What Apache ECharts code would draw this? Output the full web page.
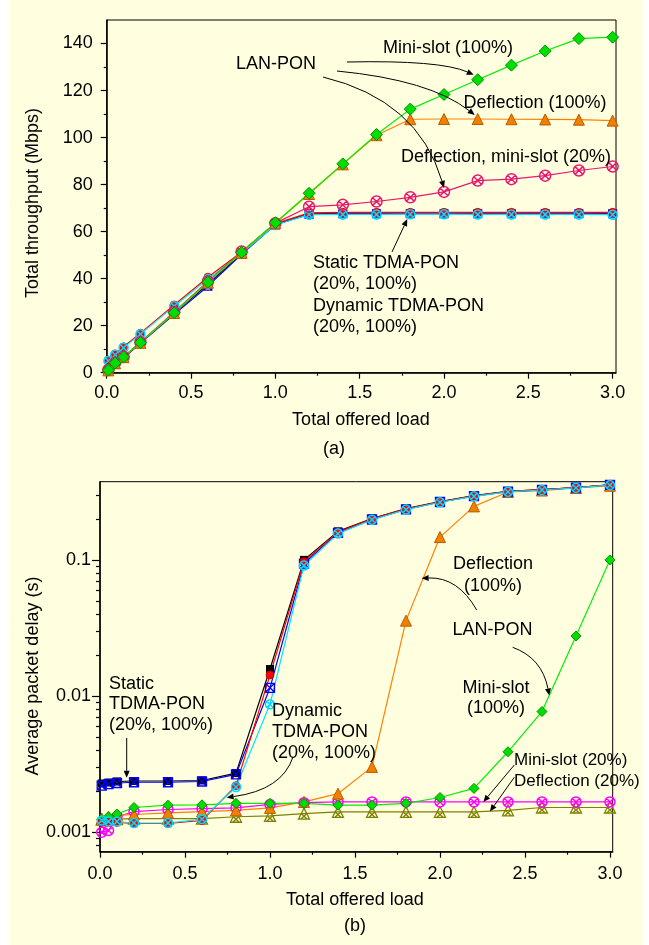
<!DOCTYPE html>
<html>
<head>
<meta charset="utf-8">
<script src="https://cdn.jsdelivr.net/npm/echarts@6.0.0/dist/echarts.min.js"></script>
<style>
html, body { margin: 0; padding: 0; background: #fff; }
#main {
    width: 649px; height: 945px;
    background: linear-gradient(to right, #fff 0, #fff 10px, #ffffe0 10px, #ffffe0 643px, #fff 643px);
}
</style>
</head>
<body>
<div id="main"></div>
<script>
// offered load (both panels)
const load = [0.01, 0.05, 0.1, 0.2, 0.4, 0.6, 0.8, 1.0, 1.2, 1.4, 1.6, 1.8, 2.0, 2.2, 2.4, 2.6, 2.8, 3.0];

// (a) total throughput, Mbps
const thrMini100 = [1.1, 4.1, 6.7, 12.8, 25.5, 38.5, 51.2, 63.8, 76.3, 88.8, 101.3, 112.1, 118.3, 124.6, 130.8, 136.8, 142.1, 142.7];
const thrDefl100 = [1.0, 4.0, 6.6, 12.7, 25.4, 38.3, 51.0, 63.6, 76.0, 88.6, 101.0, 107.8, 107.9, 107.9, 107.8, 107.7, 107.6, 107.2];
const thrDeflMini20 = [1.2, 4.2, 6.8, 13.0, 25.8, 38.8, 51.5, 63.6, 70.6, 71.4, 72.8, 74.6, 76.9, 81.7, 82.3, 83.8, 86.0, 87.7];
const thrStat20 = [1.1, 3.8, 6.5, 12.8, 25.3, 37.6, 50.8, 63.2, 67.6, 67.8, 67.9, 67.9, 67.9, 67.9, 67.9, 67.9, 67.9, 67.9];
const thrStat100 = [1.0, 3.5, 6.2, 12.5, 24.8, 36.8, 50.4, 62.9, 67.3, 67.6, 67.6, 67.6, 67.6, 67.6, 67.6, 67.6, 67.6, 67.6];
const thrDyn20 = [5.4, 8.0, 11.0, 16.8, 28.8, 40.6, 51.3, 63.4, 68.0, 68.2, 68.2, 68.2, 68.2, 68.2, 68.2, 68.2, 68.2, 68.2];
const thrDyn100 = [5.0, 7.6, 10.6, 16.4, 28.3, 39.8, 50.8, 62.8, 67.2, 67.3, 67.3, 67.4, 67.4, 67.3, 67.3, 67.3, 67.3, 67.2];

// (b) average packet delay, s
const dStat20 = [0.00228, 0.00232, 0.00236, 0.00238, 0.00238, 0.0024, 0.00272, 0.0158, 0.1, 0.162, 0.201, 0.238, 0.268, 0.296, 0.318, 0.328, 0.34, 0.356];
const dStat100 = [0.0022, 0.00226, 0.0023, 0.00233, 0.00233, 0.00236, 0.00266, 0.0115, 0.094, 0.158, 0.198, 0.235, 0.266, 0.294, 0.317, 0.327, 0.339, 0.355];
const dDyn20 = [0.00118, 0.00118, 0.00118, 0.00116, 0.00116, 0.00122, 0.0022, 0.0143, 0.097, 0.16, 0.2, 0.237, 0.267, 0.295, 0.318, 0.328, 0.34, 0.356];
const dDyn100 = [0.00122, 0.0012, 0.0012, 0.00117, 0.00117, 0.00125, 0.00215, 0.0087, 0.091, 0.156, 0.197, 0.234, 0.265, 0.293, 0.316, 0.326, 0.338, 0.354];
const dDefl100 = [0.00126, 0.0013, 0.00133, 0.00135, 0.00139, 0.00142, 0.00145, 0.00151, 0.00167, 0.00192, 0.00302, 0.0358, 0.147, 0.247, 0.315, 0.323, 0.337, 0.35];
const dMini100 = [0.00124, 0.0013, 0.00136, 0.00152, 0.00158, 0.00159, 0.00163, 0.00163, 0.00163, 0.00158, 0.00158, 0.00163, 0.0018, 0.0021, 0.0039, 0.0077, 0.0276, 0.1];
const dMini20 = [0.001, 0.00103, 0.0013, 0.00142, 0.00147, 0.00149, 0.00151, 0.0016, 0.00165, 0.00167, 0.00167, 0.00167, 0.00167, 0.00167, 0.00167, 0.00167, 0.00167, 0.00167];
const dDefl20 = [0.00124, 0.00124, 0.00125, 0.00126, 0.00126, 0.00126, 0.0013, 0.00132, 0.00137, 0.00141, 0.00141, 0.00141, 0.00141, 0.00141, 0.00145, 0.00152, 0.00152, 0.00152];

// tick values
const xTicks = [0, 0.5, 1.0, 1.5, 2.0, 2.5, 3.0];
const xMinor = [0.25, 0.75, 1.25, 1.75, 2.25, 2.75];
const yTicksA = [0, 20, 40, 60, 80, 100, 120, 140];
const yMinorA = [10, 30, 50, 70, 90, 110, 130];
const yTicksB = [0.001, 0.01, 0.1];
const yMinorB = [0.0008, 0.0009, 0.002, 0.003, 0.004, 0.005, 0.006, 0.007, 0.008, 0.009,
                 0.02, 0.03, 0.04, 0.05, 0.06, 0.07, 0.08, 0.09, 0.2, 0.3];

const FONT = '"Liberation Sans", Arial, sans-serif';

// marker shapes
const SYM_SQX = 'path://M0,0H20V20H0Z M0,0L20,20 M20,0L0,20';
const SYM_CIRX = 'path://M0,10A10,10,0,1,1,20,10A10,10,0,1,1,0,10Z M3,3L17,17 M17,3L3,17';
const SYM_TRIX = 'path://M10,0L20,20H0Z M4,9L16,20 M16,9L4,20';

function pairs(ys) {
    return load.map(function(x, i) { return [x, ys[i]]; });
}

function line(name, gi, ys, color, symbol, size, fill, border, bw) {
    return {
        name: name, type: 'line',
        xAxisIndex: gi * 2, yAxisIndex: gi * 2,
        data: pairs(ys),
        symbol: symbol, symbolSize: size,
        clip: false, animation: false,
        lineStyle: { color: color, width: 1.2 },
        itemStyle: { color: fill, borderColor: border, borderWidth: bw },
        emphasis: { disabled: true }
    };
}

function xAxis(gi, max, major) {
    return {
        gridIndex: gi, type: 'value', position: 'bottom', min: 0, max: max,
        axisLine: { show: major, onZero: false, lineStyle: { color: '#000', width: 1.5 } },
        axisTick: { show: true, length: major ? 6 : 3, customValues: major ? xTicks : xMinor,
                    lineStyle: { color: '#000', width: 1.2 } },
        axisLabel: { show: major, customValues: xTicks, formatter: function(v) { return v.toFixed(1); },
                     color: '#000', fontSize: 18, fontFamily: FONT, margin: gi === 0 ? 11 : 13 },
        splitLine: { show: false }
    };
}

const TRANS = 'rgba(0,0,0,0)';

const series = [
    // (a)
    line('Static TDMA-PON (20%)', 0, thrStat20, '#000', 'rect', 7, '#000', '#000', 0),
    line('Static TDMA-PON (100%)', 0, thrStat100, '#0000ff', SYM_SQX, 8, TRANS, '#0000ff', 1.2),
    line('Dynamic TDMA-PON (20%)', 0, thrDyn20, '#ff0000', 'circle', 8, '#ff0000', '#c00000', 0.8),
    line('Dynamic TDMA-PON (100%)', 0, thrDyn100, '#00e5ff', SYM_CIRX, 9, TRANS, '#00d8ff', 1.5),
    line('Deflection, mini-slot (20%)', 0, thrDeflMini20, '#e6196e', SYM_CIRX, 11, TRANS, '#e6196e', 1.5),
    line('Deflection (100%)', 0, thrDefl100, '#ff8000', 'triangle', 11, '#f08000', '#b85c00', 1),
    line('Mini-slot (100%)', 0, thrMini100, '#00ee00', 'diamond', 12, '#00dd00', '#009000', 1),
    // (b)
    line('Deflection (20%)', 1, dDefl20, '#808000', SYM_TRIX, 11, TRANS, '#808000', 1.3),
    line('Mini-slot (20%)', 1, dMini20, '#ff00ff', SYM_CIRX, 10, TRANS, '#ff00ff', 1.5),
    line('Deflection (100%)', 1, dDefl100, '#ff8000', 'triangle', 11, '#f08000', '#b85c00', 1),
    line('Mini-slot (100%)', 1, dMini100, '#00ee00', 'diamond', 10, '#00dd00', '#009000', 1),
    line('Static TDMA-PON (20%)', 1, dStat20, '#000', 'rect', 8, '#000', '#000', 0),
    line('Static TDMA-PON (100%)', 1, dStat100, '#0000ff', SYM_SQX, 9, TRANS, '#0000ff', 1.3),
    line('Dynamic TDMA-PON (20%)', 1, dDyn20, '#ff0000', 'circle', 8, '#ff0000', '#c00000', 0.8),
    line('Dynamic TDMA-PON (100%)', 1, dDyn100, '#00e5ff', SYM_CIRX, 9, TRANS, '#00d8ff', 1.5)
];

const chart = echarts.init(document.getElementById('main'), null, { renderer: 'canvas' });

chart.setOption({
    animation: false,
    grid: [
        { left: 106.7, top: 20, width: 509.3, height: 352.7, show: true, borderColor: '#000', borderWidth: 1 },
        { left: 100, top: 481.7, width: 512.7, height: 370, show: true, borderColor: '#000', borderWidth: 1 }
    ],
    xAxis: [xAxis(0, 3.02, true), xAxis(0, 3.02, false), xAxis(1, 3.016, true), xAxis(1, 3.016, false)],
    yAxis: [
        {
            gridIndex: 0, type: 'value', position: 'left', min: 0, max: 150,
            axisLine: { show: true, onZero: false, lineStyle: { color: '#000', width: 1.5 } },
            axisTick: { length: 6, customValues: yTicksA, lineStyle: { color: '#000', width: 1.2 } },
            axisLabel: { customValues: yTicksA, color: '#000', fontSize: 18, fontFamily: FONT, margin: 14 },
            splitLine: { show: false }
        },
        {
            gridIndex: 0, type: 'value', position: 'left', min: 0, max: 150,
            axisLine: { show: false },
            axisTick: { length: 3, customValues: yMinorA, lineStyle: { color: '#000', width: 1.2 } },
            axisLabel: { show: false },
            splitLine: { show: false }
        },
        {
            gridIndex: 1, type: 'log', position: 'left', min: 0.00072, max: 0.375,
            axisLine: { show: true, onZero: false, lineStyle: { color: '#000', width: 1.5 } },
            axisTick: { length: 8, customValues: yTicksB, lineStyle: { color: '#000', width: 1.2 } },
            axisLabel: { customValues: yTicksB, formatter: function(v) { return String(+v.toPrecision(2)); },
                         color: '#000', fontSize: 18, fontFamily: FONT, margin: 9 },
            splitLine: { show: false }
        },
        {
            gridIndex: 1, type: 'log', position: 'left', min: 0.00072, max: 0.375,
            axisLine: { show: false },
            axisTick: { length: 4, customValues: yMinorB, lineStyle: { color: '#000', width: 1.2 } },
            axisLabel: { show: false },
            splitLine: { show: false }
        }
    ],
    series: series
});

// ---- annotations ----
function txt(text, x, y, align, size, lh) {
    return {
        type: 'text', z: 100, x: x, y: y,
        style: {
            text: text, x: 0, y: 0, fill: '#000',
            font: (size || 18) + 'px ' + FONT,
            align: align || 'center', verticalAlign: lh ? 'top' : 'middle',
            lineHeight: lh || undefined
        }
    };
}

function vtxt(text, x, y) {
    const t = txt(text, x, y, 'center', 18);
    t.rotation = Math.PI / 2;
    return t;
}

// arrow from p0 to p1 (optionally curved through control cp)
function arrow(p0, cp, p1) {
    const from = cp || p0;
    let dx = p1[0] - from[0], dy = p1[1] - from[1];
    const L = Math.hypot(dx, dy);
    dx /= L; dy /= L;
    const hl = 7, hw = 3;
    const bx = p1[0] - dx * hl, by = p1[1] - dy * hl;
    const els = [];
    if (cp) {
        els.push({ type: 'bezierCurve', z: 100,
                   shape: { x1: p0[0], y1: p0[1], x2: bx, y2: by, cpx1: cp[0], cpy1: cp[1] },
                   style: { stroke: '#000', lineWidth: 1, fill: 'none' } });
    } else {
        els.push({ type: 'line', z: 100, shape: { x1: p0[0], y1: p0[1], x2: bx, y2: by },
                   style: { stroke: '#000', lineWidth: 1 } });
    }
    els.push({ type: 'polygon', z: 100,
               shape: { points: [p1, [bx - dy * hw, by + dx * hw], [bx + dy * hw, by - dx * hw]] },
               style: { fill: '#000' } });
    return els;
}

function px(gi, pt, off) {
    const p = chart.convertToPixel({ xAxisIndex: gi * 2, yAxisIndex: gi * 2 }, pt);
    return [p[0] + (off ? off[0] : 0), p[1] + (off ? off[1] : 0)];
}

let g = [
    // panel (a)
    vtxt('Total throughput (Mbps)', 33.5, 203),
    txt('Total offered load', 361, 420),
    txt('(a)', 334, 449),
    txt('LAN-PON', 276, 64),
    txt('Mini-slot (100%)', 448, 48),
    txt('Deflection (100%)', 535, 103),
    txt('Deflection, mini-slot (20%)', 506, 157),
    txt('Static TDMA-PON\n(20%, 100%)\nDynamic TDMA-PON\n(20%, 100%)', 313, 252, 'left', 18, 21.5),
    // panel (b)
    vtxt('Average packet delay (s)', 33.5, 676),
    txt('Total offered load', 355, 900),
    txt('(b)', 355, 926.5),
    txt('Static\nTDMA-PON\n(20%, 100%)', 109, 673.7, 'left', 18, 20.5),
    txt('Dynamic\nTDMA-PON\n(20%, 100%)', 272, 700, 'left', 18, 21.3),
    txt('Deflection\n(100%)', 493, 553, 'center', 18, 22),
    txt('LAN-PON', 492.5, 630),
    txt('Mini-slot\n(100%)', 496, 678, 'center', 18, 20),
    txt('Mini-slot (20%)', 514, 760.7, 'left', 17),
    txt('Deflection (20%)', 514, 781.7, 'left', 17)
];

g = g.concat(
    arrow([347, 62], [440, 60], px(0, [2.2, 124.6], [-4, -5])),
    arrow([337, 71], [430, 80], px(0, [2.2, 107.9], [-3, -4])),
    arrow([323, 77], [418, 100], px(0, [2.0, 76.9], [0, -4])),
    arrow([392, 252], null, px(0, [1.8, 67.9], [-3, 6])),
    arrow([126.7, 738], null, px(1, [0.157, 0.00235], [0, -4])),
    arrow([293, 757], [282, 790], px(1, [0.745, 0.0018])),
    arrow([476.7, 610], [458, 577], px(1, [1.892, 0.0734])),
    arrow([512.7, 647.3], [542, 658], px(1, [2.643, 0.0101])),
    arrow([514.3, 765], null, px(1, [2.255, 0.00167])),
    arrow([514.3, 777.3], null, px(1, [2.294, 0.00142]))
);

chart.setOption({ graphic: g });
</script>
</body>
</html>
